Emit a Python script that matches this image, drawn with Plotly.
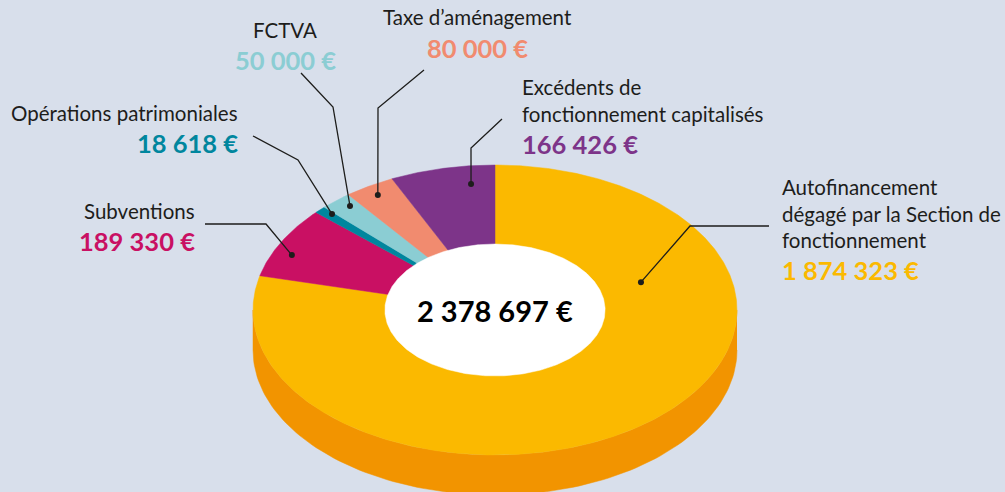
import numpy as np
import plotly.graph_objects as go

# ---------------- data ----------------
categories = [
    "Autofinancement<br>dégagé par la Section de<br>fonctionnement",
    "Subventions",
    "Opérations patrimoniales",
    "FCTVA",
    "Taxe d\u2019aménagement",
    "Excédents de<br>fonctionnement capitalisés",
]
values = [1874323, 189330, 18618, 50000, 80000, 166426]
value_labels = ["1 874 323 €", "189 330 €", "18 618 €", "50 000 €", "80 000 €", "166 426 €"]
total_label = "2 378 697 €"

# ---------------- style ----------------
top_colors = ["#FBB900", "#C91063", "#00869E", "#8BCDD3", "#F18B6F", "#7D3489"]
side_colors = ["#F29400", "#A00D4F", "#006A7D", "#6FB0B6", "#D2735A", "#62286D"]
BG = "#D8DFEB"
TXT = "#1D1D1B"
W, H = 1005, 492
CX, CY, RX, RY, DEPTH, HOLE = 495, 310, 242, 145, 40, 0.455
LBL_SIZE, VAL_SIZE = 20.5, 25.5

# leader dots: (fraction of slice angle, radial fraction); then elbow/end in px
dot_pos = [(0.255, 0.633), (0.371, 0.921), (0.77, 0.944), (0.655, 0.934), (0.486, 0.929), (0.742, 0.875)]
leader_pts = [
    [(690, 226), (769, 226)],
    [(266, 224), (205, 224)],
    [(298, 160), (253, 136)],
    [(333, 107), (301, 73)],
    [(378, 108), (424, 70)],
    [(471, 148), (502, 119)],
]
# label placements: (x, y boundary between name and amount, xanchor)
label_pos = [
    (781, 252.5, "left"),
    (196, 224, "right"),
    (239, 126, "right"),
    (285, 43, "center"),
    (477, 30.5, "center"),
    (521, 126.5, "left"),
]


def pt(theta, r=1.0, dy=0.0):
    t = np.radians(theta)
    return CX + RX * r * np.sin(t), CY - RY * r * np.cos(t) + dy


vals = np.array(values, dtype=float)
angles = np.concatenate([[0], np.cumsum(vals) / vals.sum() * 360])

fig = go.Figure()

# side walls (front half only: 90..270 degrees clockwise from top)
for i in range(len(values)):
    a0, a1 = max(angles[i], 90), min(angles[i + 1], 270)
    if a1 <= a0:
        continue
    th = np.linspace(a0, a1, 120)
    xt, yt = pt(th)
    xb, yb = pt(th[::-1], dy=DEPTH)
    fig.add_trace(go.Scatter(
        x=np.concatenate([xt, xb]), y=np.concatenate([yt, yb]),
        fill="toself", fillcolor=side_colors[i], mode="lines",
        line=dict(color=side_colors[i], width=0.5), hoverinfo="skip", showlegend=False))

# top sectors
for i in range(len(values)):
    th = np.linspace(angles[i], angles[i + 1], max(int((angles[i + 1] - angles[i]) * 2), 8))
    xo, yo = pt(th)
    fig.add_trace(go.Scatter(
        x=np.concatenate([[CX], xo, [CX]]), y=np.concatenate([[CY], yo, [CY]]),
        fill="toself", fillcolor=top_colors[i], mode="lines",
        line=dict(color=top_colors[i], width=0.5), hoverinfo="skip", showlegend=False))

# white centre disc
th = np.linspace(0, 360, 361)
xh, yh = pt(th, HOLE)
fig.add_trace(go.Scatter(x=xh, y=yh, fill="toself", fillcolor="white", mode="lines",
                         line=dict(color="white", width=0.5), hoverinfo="skip", showlegend=False))

# leader lines
for i in range(len(values)):
    f, r = dot_pos[i]
    dx, dyy = pt(angles[i] + f * (angles[i + 1] - angles[i]), r)
    xs = [dx] + [p[0] for p in leader_pts[i]]
    ys = [dyy] + [p[1] for p in leader_pts[i]]
    fig.add_trace(go.Scatter(x=xs, y=ys, mode="lines", line=dict(color=TXT, width=1.3),
                             hoverinfo="skip", showlegend=False))
    fig.add_trace(go.Scatter(x=[dx], y=[dyy], mode="markers",
                             marker=dict(color=TXT, size=6), hoverinfo="skip", showlegend=False))

annotations = []
for i in range(len(values)):
    x, yb, xa = label_pos[i]
    annotations.append(dict(x=x, y=yb, text=categories[i], showarrow=False, xanchor=xa,
                            yanchor="bottom", align=xa, borderpad=0,
                            font=dict(family="Lato", size=LBL_SIZE, color=TXT)))
    annotations.append(dict(x=x, y=yb + 1, text="<b>" + value_labels[i] + "</b>", showarrow=False,
                            xanchor=xa, yanchor="top", borderpad=0,
                            font=dict(family="Lato", size=VAL_SIZE, color=top_colors[i], weight=900)))
annotations.append(dict(x=CX, y=CY, text="<b>" + total_label + "</b>", showarrow=False,
                        xanchor="center", yanchor="middle",
                        font=dict(family="Lato", size=29, color="black", weight=900)))

fig.update_layout(
    width=W, height=H, margin=dict(l=0, r=0, t=0, b=0),
    paper_bgcolor=BG, plot_bgcolor=BG,
    xaxis=dict(range=[0, W], visible=False, fixedrange=True),
    yaxis=dict(range=[H, 0], visible=False, fixedrange=True),
    annotations=annotations, showlegend=False,
)
fig.write_html("out.html", config={"displayModeBar": False},
               post_script="document.body.style.margin='0';document.body.style.padding='0';"
                           "document.body.style.overflow='hidden';"
                           "document.body.style.background='" + BG + "';")
